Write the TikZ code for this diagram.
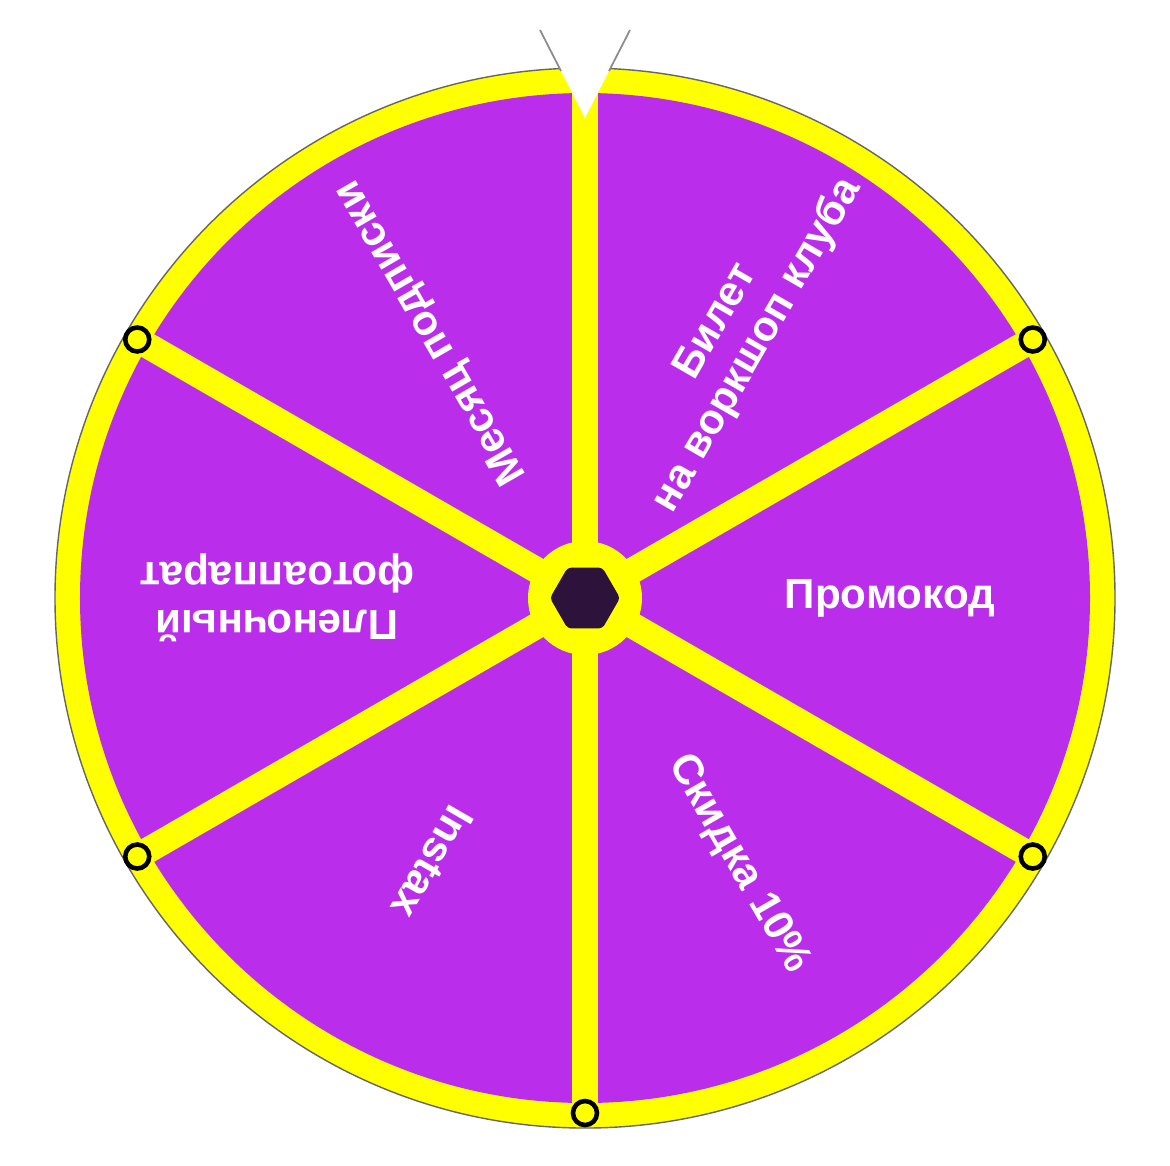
\documentclass[tikz,border=0pt]{standalone}
\usepackage{fontspec}
\setmainfont{Liberation Sans}
\usepackage{tikz}
\usetikzlibrary{shapes.geometric}
\definecolor{wheelpurple}{RGB}{186,46,235}
\definecolor{wheelyellow}{RGB}{255,255,0}
\definecolor{hubdark}{RGB}{45,18,60}

\begin{document}
\begin{tikzpicture}
\tikzset{prize/.style={text=white,font=\fontsize{12}{13.5}\selectfont\bfseries,align=center,inner sep=0pt}}
\tikzset{pin/.style={draw=black,circle,line width=1.3pt,fill=wheelyellow,minimum size=0.24cm,inner sep=0pt}}
\useasboundingbox (-5.85,-5.67) rectangle (5.85,5.98);
\fill[wheelyellow,draw=black!60,line width=0.4pt] (0,0) circle (5.30);
\fill[wheelpurple] (0,0) circle (5.05);
\foreach \a in {90,30,-30,-90,-150,150}
  \draw[wheelyellow,line width=0.26cm] (0,0) -- (\a:5.15);
\node (hub) at (0,0) [circle,fill=wheelyellow,minimum size=1.14cm,inner sep=0pt] {};
\node (core) at (0,0) [regular polygon,regular polygon sides=6,fill=hubdark,rounded corners=1pt,minimum size=0.70cm,inner sep=0pt] {};

\node (p1) at (30:5.17) [pin] {};
\node (p2) at (150:5.17) [pin] {};
\node (p3) at (210:5.17) [pin] {};
\node (p4) at (330:5.17) [pin] {};
\node (p5) at (270:5.15) [pin] {};

\node (promo) at (0:3.05) [prize,rotate=0] {Промокод};
\node (ticket) at (60:3.05) [prize,rotate=60] {Билет\\на воркшоп клуба};
\node (month) at (120:3.07) [prize,rotate=120] {Месяц подписки};
\node (camera) at (180:3.08) [prize,rotate=180] {Пленочный\\фотоаппарат};
\node (instax) at (240:3.05) [prize,rotate=240] {Instax};
\node (sale) at (300:3.07) [prize,rotate=300] {Скидка 10\%};

\coordinate (tl) at (-0.45,5.68);
\coordinate (tr) at (0.45,5.68);
\coordinate (tip) at (0,4.80);
\fill[white] (tl) -- (tip) -- (tr) -- cycle;
\draw[black!45,line width=0.5pt] (tl) -- (-0.24,5.27);
\draw[black!45,line width=0.5pt] (tr) -- (0.24,5.27);
\end{tikzpicture}
\end{document}
